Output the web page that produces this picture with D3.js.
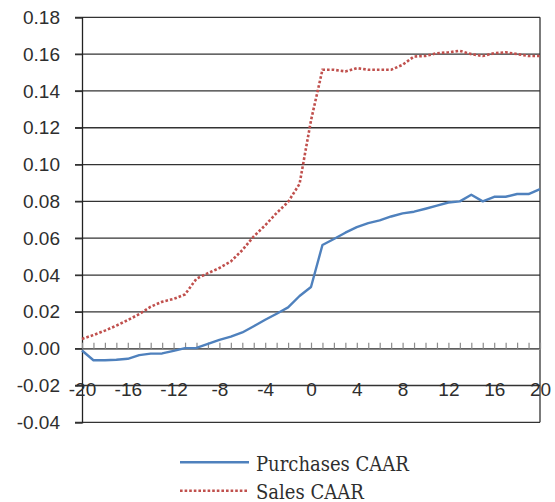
<!DOCTYPE html>
<html>
<head>
<meta charset="utf-8">
<script src="https://cdn.jsdelivr.net/npm/d3@7"></script>
<style>
  html, body { margin: 0; padding: 0; background: #fff; }
  svg { display: block; }
</style>
</head>
<body>
<svg id="chart" width="555" height="502"></svg>
<script>
// Event days around the trade date
const days = [-20, -19, -18, -17, -16, -15, -14, -13, -12, -11, -10, -9, -8, -7, -6, -5, -4, -3, -2, -1,
              0, 1, 2, 3, 4, 5, 6, 7, 8, 9, 10, 11, 12, 13, 14, 15, 16, 17, 18, 19, 20];

// Cumulative average abnormal returns
const purchasesCAAR = [-0.0010, -0.0063, -0.0063, -0.0060, -0.0055, -0.0035, -0.0027, -0.0026, -0.0012, 0.0003,
                       0.0004, 0.0026, 0.0048, 0.0065, 0.0088, 0.0122, 0.0157, 0.0190, 0.0224, 0.0286,
                       0.0335, 0.0563, 0.0596, 0.0630, 0.0660, 0.0682, 0.0697, 0.0718, 0.0735, 0.0744,
                       0.0760, 0.0777, 0.0794, 0.0800, 0.0836, 0.0800, 0.0825, 0.0825, 0.0840, 0.0840, 0.0867];

const salesCAAR = [0.0053, 0.0074, 0.0098, 0.0125, 0.0155, 0.0188, 0.0228, 0.0255, 0.0270, 0.0295,
                   0.0380, 0.0410, 0.0438, 0.0474, 0.0535, 0.0610, 0.0670, 0.0737, 0.0797, 0.0895,
                   0.1240, 0.1515, 0.1515, 0.1506, 0.1524, 0.1515, 0.1515, 0.1515, 0.1542, 0.1587,
                   0.1590, 0.1605, 0.1610, 0.1618, 0.1600, 0.1590, 0.1605, 0.1610, 0.1600, 0.1590, 0.1590];

const yTicks = [-0.04, -0.02, 0.00, 0.02, 0.04, 0.06, 0.08, 0.10, 0.12, 0.14, 0.16, 0.18];
const xLabelTicks = [-20, -16, -12, -8, -4, 0, 4, 8, 12, 16, 20];

const seriesNames = ["Purchases CAAR", "Sales CAAR"];

const svg = d3.select("#chart");

const plotLeft = 82, plotRight = 540, plotTop = 17.3, plotBottom = 422.3;

const x = d3.scaleLinear().domain([-20, 20]).range([plotLeft, plotRight]);
const y = d3.scaleLinear().domain([-0.04, 0.18]).range([plotBottom, plotTop]);

const axisFont = "'Liberation Sans', Arial, sans-serif";
const textColor = "#2e2e2e";

// Horizontal gridlines (extend a little left of the axis as tick marks)
svg.append("g")
  .selectAll("line")
  .data(yTicks)
  .join("line")
  .attr("x1", plotLeft - 7)
  .attr("x2", plotRight)
  .attr("y1", d => y(d))
  .attr("y2", d => y(d))
  .attr("stroke", "#333")
  .attr("stroke-width", 1.3);

// Right frame edge
svg.append("line")
  .attr("x1", plotRight).attr("x2", plotRight)
  .attr("y1", plotTop).attr("y2", plotBottom)
  .attr("stroke", "#333")
  .attr("stroke-width", 1.3);

// Y axis with labels
const yAxis = svg.append("g")
  .attr("transform", `translate(${plotLeft},0)`)
  .call(d3.axisLeft(y)
    .tickValues(yTicks)
    .tickSize(7)
    .tickPadding(15)
    .tickFormat(d => d.toFixed(2)));
yAxis.select(".domain").attr("stroke", "#222").attr("stroke-width", 1.3);
yAxis.selectAll(".tick line").attr("stroke", "#333").attr("stroke-width", 1.3);
yAxis.selectAll("text")
  .attr("font-family", axisFont)
  .attr("font-size", 19)
  .attr("fill", textColor);

// Category axis along zero with a tick for every day
const xAxis = svg.append("g")
  .attr("transform", `translate(0,${y(0)})`)
  .call(d3.axisBottom(x)
    .tickValues(days)
    .tickSizeInner(-6)
    .tickSizeOuter(0)
    .tickFormat(""));
xAxis.select(".domain").attr("stroke", "#8c8c8c").attr("stroke-width", 1.5);
xAxis.selectAll(".tick line").attr("stroke", "#8c8c8c").attr("stroke-width", 1.2);

// Day labels every four days, set below the axis
const xLabels = svg.append("g")
  .attr("transform", `translate(0,${y(0)})`)
  .call(d3.axisBottom(x)
    .tickValues(xLabelTicks)
    .tickSize(0)
    .tickFormat(d => String(d)));
xLabels.select(".domain").remove();
xLabels.selectAll("text")
  .attr("y", 40.5)
  .attr("dy", "0.35em")
  .attr("font-family", axisFont)
  .attr("font-size", 19)
  .attr("fill", textColor);

// Lines
const line = d3.line()
  .x((d, i) => x(days[i]))
  .y(d => y(d));

svg.append("path")
  .datum(purchasesCAAR)
  .attr("fill", "none")
  .attr("stroke", "#4F81BD")
  .attr("stroke-width", 2.4)
  .attr("stroke-linejoin", "round")
  .attr("d", line);

svg.append("path")
  .datum(salesCAAR)
  .attr("fill", "none")
  .attr("stroke", "#C0504D")
  .attr("stroke-width", 2.6)
  .attr("stroke-dasharray", "2.6,2")
  .attr("d", line);

// Legend
const legend = svg.append("g");
const legendStyles = [
  { color: "#4F81BD", dash: null },
  { color: "#C0504D", dash: "2.6,2" }
];
seriesNames.forEach((name, i) => {
  const ly = 462.3 + i * 28.5;
  legend.append("line")
    .attr("x1", 180).attr("x2", 249)
    .attr("y1", ly).attr("y2", ly)
    .attr("stroke", legendStyles[i].color)
    .attr("stroke-width", 2.5)
    .attr("stroke-dasharray", legendStyles[i].dash);
  legend.append("text")
    .attr("x", 256)
    .attr("y", ly + 8.4)
    .attr("font-family", "'DejaVu Serif Condensed', 'DejaVu Serif', serif")
    .attr("font-stretch", "condensed")
    .attr("font-size", 20)
    .attr("fill", textColor)
    .text(name);
});
</script>
</body>
</html>
